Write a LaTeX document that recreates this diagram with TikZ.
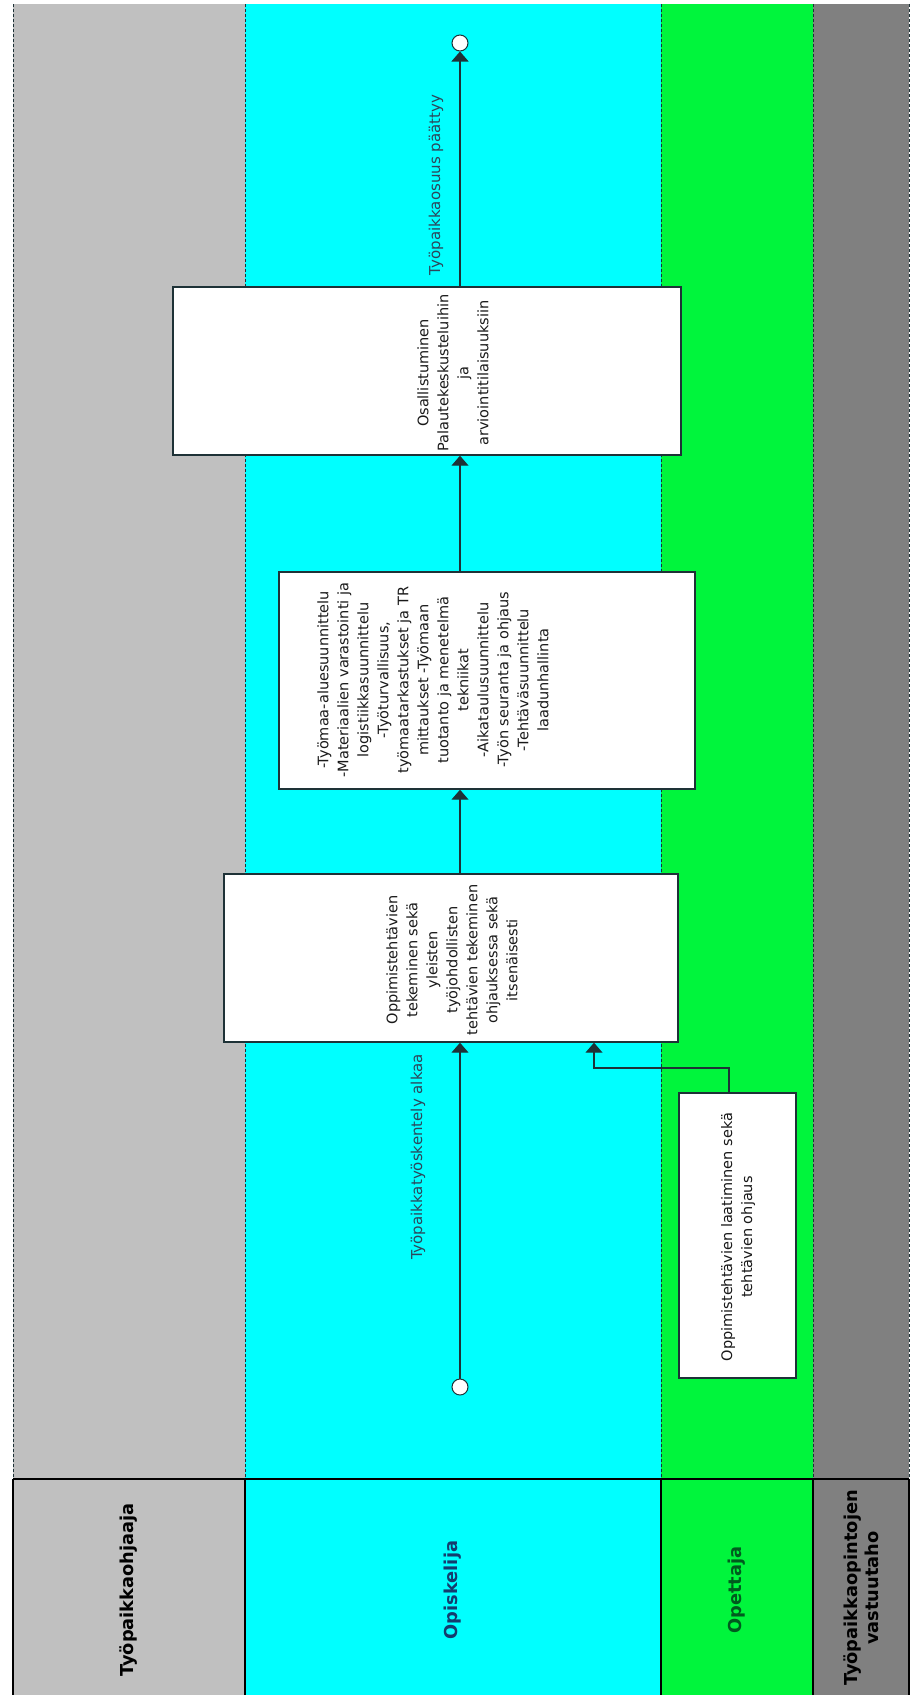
\documentclass[tikz,border=0pt]{standalone}
\usepackage{fontspec}
\setmainfont{DejaVu Sans}
\usetikzlibrary{arrows.meta}

\definecolor{laneGray}{RGB}{192,192,192}
\definecolor{laneCyan}{RGB}{0,255,255}
\definecolor{laneGreen}{RGB}{0,245,60}
\definecolor{laneDark}{RGB}{128,128,128}
\definecolor{edgeInk}{RGB}{30,50,55}
\definecolor{labelInk}{RGB}{45,70,90}
\definecolor{navyInk}{RGB}{20,60,110}
\definecolor{greenInk}{RGB}{0,90,30}

\begin{document}
\begin{tikzpicture}[x=1pt,y=-1pt,
  lanesep/.style={draw=edgeInk, dash pattern=on 3pt off 2pt, line width=0.9pt},
  headsep/.style={draw=black, line width=1.2pt},
  taskbox/.style={draw=edgeInk, fill=white, line width=1.4pt, inner sep=0pt},
  tasktext/.style={rotate=90, align=center, font=\fontsize{14.5}{20}\selectfont, text=black!90, inner sep=0pt},
  flow/.style={draw=edgeInk, line width=1.3pt, -{Triangle[width=17pt,length=10pt]}},
  event/.style={circle, draw=edgeInk, fill=white, line width=1pt, minimum size=16pt, inner sep=0pt},
  flowlabel/.style={rotate=90, font=\fontsize{15}{17}\selectfont, text=labelInk, inner sep=0pt},
  lanetitle/.style={rotate=90, align=center, font=\bfseries\fontsize{17.8}{21}\selectfont, inner sep=0pt}
]
\useasboundingbox (0,0) rectangle (911,1695);
\fill[white] (0,0) rectangle (911,1695);

% swimlanes
\fill[laneGray]  (13,4)  rectangle (245,1695);
\fill[laneCyan]  (245,4) rectangle (661,1695);
\fill[laneGreen] (661,4) rectangle (813,1695);
\fill[laneDark]  (813,4) rectangle (909,1695);
\foreach \x in {13,245,661,813,909} {
  \draw[lanesep] (\x,4) -- (\x,1479);
  \draw[headsep] (\x,1479) -- (\x,1695);
}
\draw[headsep] (13,1479) -- (909,1479);

% lane titles
\node[lanetitle] (hA) at (129,1590) {Työpaikkaohjaaja};
\node[lanetitle, text=navyInk] (hB) at (453,1590) {Opiskelija};
\node[lanetitle, text=greenInk] (hC) at (737,1590) {Opettaja};
\node[lanetitle] (hD) at (861,1588) {Työpaikkaopintojen\\vastuutaho};

% activities
\node[taskbox, minimum width=508pt, minimum height=168pt] (b4) at (427,371) {};
\node[taskbox, minimum width=416pt, minimum height=217pt] (b3) at (487,680.5) {};
\node[taskbox, minimum width=454pt, minimum height=168pt] (b1) at (451,958) {};
\node[taskbox, minimum width=117pt, minimum height=285pt] (bt) at (737.5,1235.5) {};

\node[tasktext] (t4) at (453,373) {Osallistuminen\\Palautekeskusteluihin\\ja\\arviointitilaisuuksiin};
\node[tasktext] (t3) at (433,680) {-Työmaa-aluesuunnittelu\\-Materiaalien varastointi ja\\logistiikkasuunnittelu\\-Työturvallisuus,\\työmaatarkastukset ja TR\\mittaukset -Työmaan\\tuotanto ja menetelmä\\tekniikat\\-Aikataulusuunnittelu\\-Työn seuranta ja ohjaus\\-Tehtäväsuunnittelu\\laadunhallinta};
\node[tasktext] (t1) at (452,960) {Oppimistehtävien\\tekeminen sekä\\yleisten\\työjohdollisten\\tehtävien tekeminen\\ohjauksessa sekä\\itsenäisesti};
\node[tasktext] (tt) at (738,1237) {Oppimistehtävien laatiminen sekä\\tehtävien ohjaus};

% start and end events
\node[event] (start) at (460,1387) {};
\node[event] (finish) at (460,43) {};

% sequence flows
\draw[flow] (start) -- (start |- b1.south);
\draw[flow] (b1.north -| start) -- (b3.south -| start);
\draw[flow] (b3.north -| start) -- (b4.south -| start);
\draw[flow] (b4.north -| start) -- (finish);

\coordinate (jn) at (729,1068);
\coordinate (feed) at (594,1068);
\draw[flow] (bt.north -| jn) -- (jn) -- (feed) -- (feed |- b1.south);

\node[flowlabel] (l1) at (418,1157) {Työpaikkatyöskentely alkaa};
\node[flowlabel] (l2) at (436,185) {Työpaikkaosuus päättyy};
\end{tikzpicture}
\end{document}
